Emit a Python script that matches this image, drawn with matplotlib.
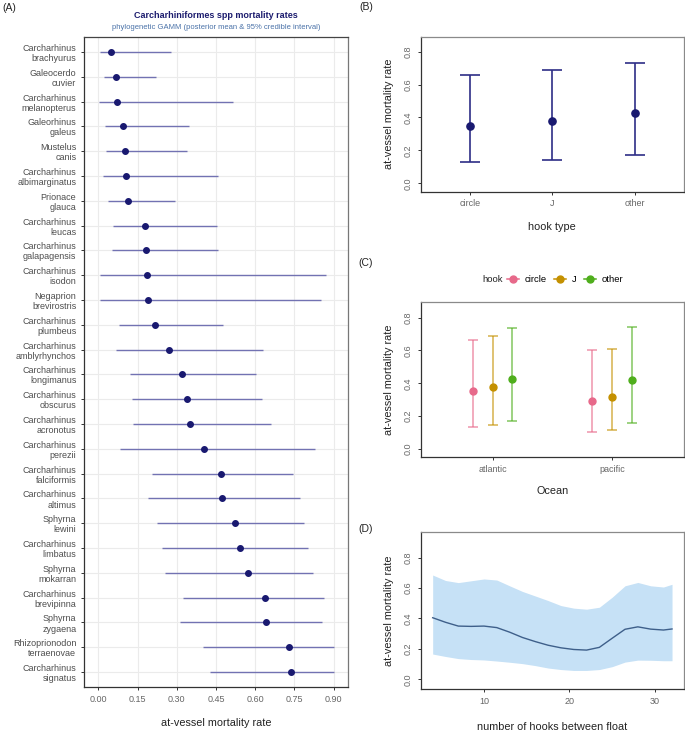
import matplotlib
matplotlib.use("Agg")
import matplotlib.pyplot as plt
from matplotlib.lines import Line2D

plt.rcParams['font.family'] = ['Liberation Sans', 'DejaVu Sans']

# ---------------- data ----------------
species = ["Carcharhinus\nbrachyurus", "Galeocerdo\ncuvier", "Carcharhinus\nmelanopterus",
           "Galeorhinus\ngaleus", "Mustelus\ncanis", "Carcharhinus\nalbimarginatus",
           "Prionace\nglauca", "Carcharhinus\nleucas", "Carcharhinus\ngalapagensis",
           "Carcharhinus\nisodon", "Negaprion\nbrevirostris", "Carcharhinus\nplumbeus",
           "Carcharhinus\namblyrhynchos", "Carcharhinus\nlongimanus", "Carcharhinus\nobscurus",
           "Carcharhinus\nacronotus", "Carcharhinus\nperezii", "Carcharhinus\nfalciformis",
           "Carcharhinus\naltimus", "Sphyrna\nlewini", "Carcharhinus\nlimbatus",
           "Sphyrna\nmokarran", "Carcharhinus\nbrevipinna", "Sphyrna\nzygaena",
           "Rhizoprionodon\nterraenovae", "Carcharhinus\nsignatus"]
sp_mean = [0.049, 0.068, 0.072, 0.096, 0.103, 0.106, 0.112, 0.179, 0.181, 0.186, 0.190,
           0.217, 0.269, 0.320, 0.338, 0.352, 0.406, 0.471, 0.472, 0.524, 0.542, 0.573,
           0.639, 0.643, 0.729, 0.736]
sp_low = [0.007, 0.023, 0.004, 0.026, 0.030, 0.017, 0.038, 0.055, 0.054, 0.007, 0.007,
          0.077, 0.069, 0.120, 0.129, 0.134, 0.083, 0.205, 0.190, 0.225, 0.244, 0.253,
          0.323, 0.313, 0.401, 0.427]
sp_high = [0.277, 0.220, 0.514, 0.347, 0.338, 0.459, 0.295, 0.454, 0.458, 0.870, 0.852,
           0.478, 0.628, 0.602, 0.626, 0.661, 0.829, 0.744, 0.771, 0.785, 0.803, 0.820,
           0.864, 0.855, 0.901, 0.901]
a_xticks = [0.00, 0.15, 0.30, 0.45, 0.60, 0.75, 0.90]

hooks = ["circle", "J", "other"]
hook_mean = [0.350, 0.377, 0.425]
hook_low = [0.131, 0.143, 0.170]
hook_high = [0.660, 0.687, 0.731]

oceans = ["atlantic", "pacific"]
oc_mean = {"circle": [0.354, 0.295], "J": [0.378, 0.315], "other": [0.429, 0.423]}
oc_low = {"circle": [0.132, 0.104], "J": [0.148, 0.114], "other": [0.173, 0.160]}
oc_high = {"circle": [0.663, 0.602], "J": [0.691, 0.612], "other": [0.734, 0.740]}

hbf = [4, 5.5, 7, 8.5, 10, 11.5, 13, 14.5, 16, 17.5, 19, 20.5, 22, 23.5, 25, 26.5, 28, 29.5, 31, 32]
hbf_mean = [0.405, 0.375, 0.350, 0.348, 0.350, 0.340, 0.310, 0.275, 0.248, 0.224, 0.207,
            0.196, 0.192, 0.210, 0.270, 0.329, 0.345, 0.330, 0.324, 0.331]
hbf_upper = [0.686, 0.650, 0.636, 0.648, 0.660, 0.653, 0.615, 0.578, 0.548, 0.518, 0.485,
             0.468, 0.461, 0.474, 0.540, 0.615, 0.637, 0.615, 0.607, 0.625]
hbf_lower = [0.166, 0.150, 0.136, 0.130, 0.127, 0.120, 0.112, 0.103, 0.090, 0.074, 0.064,
             0.058, 0.058, 0.064, 0.083, 0.113, 0.126, 0.125, 0.122, 0.122]

# ---------------- styling helpers ----------------
W, H = 685, 735
fig = plt.figure(figsize=(W / 100, H / 100), dpi=100)

def ax_px(left, top, right, bottom):
    return fig.add_axes([left / W, 1 - bottom / H, (right - left) / W, (bottom - top) / H])

TXT = '#4d4d4d'
TICKC = '#666666'

def style_box(ax):
    for s in ['top', 'right']:
        ax.spines[s].set_color('#8a8a8a')
        ax.spines[s].set_linewidth(0.9)
    for s in ['left', 'bottom']:
        ax.spines[s].set_color('#333333')
        ax.spines[s].set_linewidth(0.9)
    ax.tick_params(axis='both', length=2.5, width=0.7, color='#333333',
                   labelsize=6.5, labelcolor=TICKC, pad=3)

# ---------------- Panel A ----------------
axA = ax_px(84, 37, 348, 687)
ypos = list(range(1, len(species) + 1))
axA.hlines(ypos, sp_low, sp_high, color='#5d5da8', lw=1.0, alpha=0.85, zorder=2)
axA.plot(sp_mean, ypos, 'o', color='#191970', ms=4.0, zorder=3)
axA.set_ylim(len(species) + 0.6, 0.4)
axA.set_xlim(-0.055, 0.955)
axA.set_yticks(ypos)
axA.set_yticklabels(species, ha='right', linespacing=1.15)
axA.set_xticks(a_xticks)
axA.set_xticklabels([f"{v:.2f}" for v in a_xticks])
axA.grid(True, color='#ebebeb', lw=0.8, zorder=0)
axA.set_axisbelow(True)
style_box(axA)
axA.spines['top'].set_color('#444444')
axA.spines['right'].set_color('#777777')
axA.tick_params(axis='y', labelcolor=TXT)
axA.set_xlabel("at-vessel mortality rate", fontsize=7.8, color='#222222', labelpad=10)
fig.text(216 / W, 1 - 15 / H, "Carcharhiniformes spp mortality rates", ha='center', va='center',
         fontsize=6.5, fontweight='bold', color='#1c1c6e')
fig.text(216 / W, 1 - 27.5 / H, "phylogenetic GAMM (posterior mean & 95% credible interval)",
         ha='center', va='center', fontsize=5.5, color='#4a72a8')
fig.text(2 / W, 1 - 8 / H, "(A)", ha='left', va='center', fontsize=7.5, color='#222222')

# ---------------- Panel B ----------------
axB = ax_px(420.7, 36.7, 684, 191.7)
xb = [1, 2, 3]
yerr_b = [[m - l for m, l in zip(hook_mean, hook_low)], [h - m for m, h in zip(hook_mean, hook_high)]]
axB.errorbar(xb, hook_mean, yerr=yerr_b, fmt='o', color='#191970', ecolor='#2e2e86',
             elinewidth=1.2, capsize=7.4, capthick=1.2, ms=5.2)
axB.set_xlim(0.4, 3.6)
axB.set_ylim(-0.05, 0.89)
axB.set_xticks(xb)
axB.set_xticklabels(hooks)
axB.set_yticks([0.0, 0.2, 0.4, 0.6, 0.8])
axB.set_yticklabels(["0.0", "0.2", "0.4", "0.6", "0.8"], rotation=90, va='center')
style_box(axB)
axB.set_xlabel("hook type", fontsize=7.8, color='#222222', labelpad=10)
axB.set_ylabel("at-vessel mortality rate", fontsize=7.8, color='#222222', labelpad=7)
fig.text(366 / W, 1 - 7 / H, "(B)", ha='center', va='center', fontsize=7.5, color='#222222')

# ---------------- Panel C ----------------
axC = ax_px(420.7, 301.7, 684, 457.3)
hook_cols = {"circle": '#E7698A', "J": '#C49000', "other": '#4FAE1C'}
offsets = {"circle": -0.167, "J": 0.0, "other": 0.167}
for h in hooks:
    xs = [i + 1 + offsets[h] for i in range(len(oceans))]
    m = oc_mean[h]
    err = [[a - b for a, b in zip(m, oc_low[h])], [c - a for a, c in zip(m, oc_high[h])]]
    axC.errorbar(xs, m, yerr=err, fmt='none', ecolor=hook_cols[h], elinewidth=1.1,
                 capsize=3.6, capthick=1.1, alpha=0.7)
    axC.plot(xs, m, 'o', color=hook_cols[h], ms=5.0, zorder=3)
axC.set_xlim(0.4, 2.6)
axC.set_ylim(-0.05, 0.897)
axC.set_xticks([1, 2])
axC.set_xticklabels(oceans)
axC.set_yticks([0.0, 0.2, 0.4, 0.6, 0.8])
axC.set_yticklabels(["0.0", "0.2", "0.4", "0.6", "0.8"], rotation=90, va='center')
style_box(axC)
axC.set_xlabel("Ocean", fontsize=7.8, color='#222222', labelpad=9)
axC.set_ylabel("at-vessel mortality rate", fontsize=7.8, color='#222222', labelpad=7)
fig.text(366 / W, 1 - 263 / H, "(C)", ha='center', va='center', fontsize=7.5, color='#222222')
fig.text(493 / W, 1 - 280 / H, "hook", ha='center', va='center', fontsize=6.8, color='#222222')
handles = [Line2D([0], [0], color=hook_cols[h], marker='o', ms=5, lw=1.1) for h in hooks]
fig.legend(handles, hooks, loc='center left', bbox_to_anchor=(507 / W, 1 - 280 / H), ncol=3,
           frameon=False, fontsize=6.8, handlelength=1.3, handletextpad=0.55, columnspacing=0.8,
           borderpad=0, borderaxespad=0)

# ---------------- Panel D ----------------
axD = ax_px(420.7, 531.7, 684, 689)
axD.fill_between(hbf, hbf_lower, hbf_upper, color='#c6e1f6', lw=0)
axD.plot(hbf, hbf_mean, color='#3e5f8a', lw=1.0)
axD.set_xlim(2.6, 33.4)
axD.set_ylim(-0.064, 0.971)
axD.set_xticks([10, 20, 30])
axD.set_yticks([0.0, 0.2, 0.4, 0.6, 0.8])
axD.set_yticklabels(["0.0", "0.2", "0.4", "0.6", "0.8"], rotation=90, va='center')
style_box(axD)
axD.set_xlabel("number of hooks between float", fontsize=7.8, color='#222222', labelpad=12)
axD.set_ylabel("at-vessel mortality rate", fontsize=7.8, color='#222222', labelpad=7)
fig.text(366 / W, 1 - 529 / H, "(D)", ha='center', va='center', fontsize=7.5, color='#222222')

fig.savefig("out.png", dpi=100)
